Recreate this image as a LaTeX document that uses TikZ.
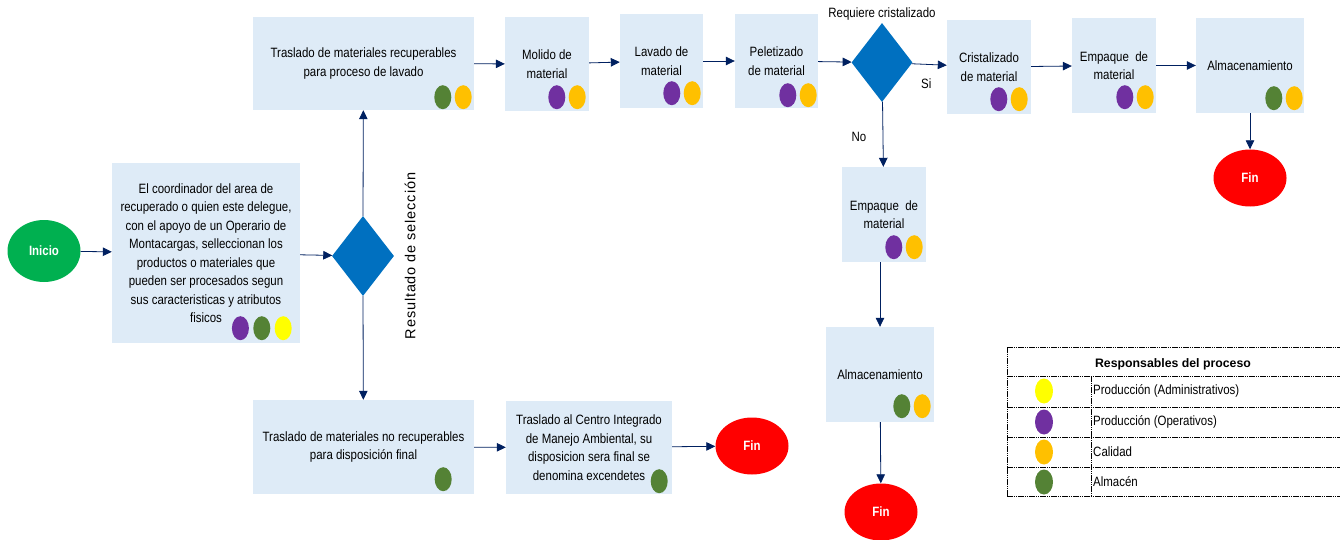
\documentclass[tikz,border=0pt]{standalone}
\usepackage{fontspec}
\setmainfont{Liberation Sans}
\newfontfamily\angosta[FakeStretch=0.85]{Liberation Sans}
\newfontfamily\espaciada[LetterSpace=6]{Liberation Sans}
\usetikzlibrary{arrows.meta,positioning,shapes.geometric}

\definecolor{cajaazul}{HTML}{DEEBF7}
\definecolor{rombo}{HTML}{0070C0}
\definecolor{inicioverde}{HTML}{00B050}
\definecolor{finrojo}{HTML}{FF0000}
\definecolor{flechaazul}{HTML}{002060}
\definecolor{morado}{HTML}{7030A0}
\definecolor{verdeosc}{HTML}{548235}
\definecolor{naranja}{HTML}{FFC000}
\definecolor{amarillo}{HTML}{FFFF00}

\tikzset{
  paso/.style={rectangle, fill=cajaazul, align=center, inner sep=2pt,
    font=\angosta\fontsize{13.5}{18.5}\selectfont},
  decision/.style={diamond, fill=rombo, inner sep=0pt, minimum width=62pt, minimum height=80pt},
  terminal/.style={ellipse, inner sep=0pt, minimum width=73pt, minimum height=57pt,
    text=white, font=\angosta\bfseries\fontsize{13.5}{15}\selectfont},
  resp/.style={ellipse, inner sep=0pt, minimum width=17pt, minimum height=24pt},
  flecha/.style={draw=flechaazul, line width=0.8pt, -{Triangle[width=8.5pt,length=9pt]}},
  rotulo/.style={font=\angosta\fontsize{13.5}{15}\selectfont},
  tabla/.style={line width=0.9pt, dash pattern=on 1.5pt off 0.7pt},
}

\begin{document}
\begin{tikzpicture}[x=1pt, y=-1pt]
  \useasboundingbox (0,0) rectangle (1340,540);

  % inicio y seleccion
  \node[terminal, fill=inicioverde, minimum height=62pt] (ini) at (44,251) {Inicio};
  \node[paso, minimum width=188pt, minimum height=180pt] (sel) at (206,253)
    {El coordinador del area de\\recuperado o quien este delegue,\\con el apoyo de un Operario de\\Montacargas, selleccionan los\\productos o materiales que\\pueden ser procesados segun\\sus caracteristicas y atributos\\fisicos};
  \node[decision] (res) at (363,256) {};
  \node[rotate=90, font=\espaciada\fontsize{14.5}{16}\selectfont] (resl) at (410,256) {Resultado de selección};

  % linea superior
  \node[paso, minimum width=221pt, minimum height=93pt] (rec) at (363.5,63.5)
    {Traslado de materiales recuperables\\para proceso de lavado};
  \node[paso, minimum width=84pt, minimum height=94pt] (mol) at (547,64) {Molido de\\material};
  \node[paso, minimum width=83pt, minimum height=94pt] (lav) at (661.5,61) {Lavado de\\material};
  \node[paso, minimum width=83pt, minimum height=94pt] (pel) at (776.5,61) {Peletizado\\de material};
  \node[decision, minimum width=61pt, minimum height=79pt] (cri) at (882,62.5) {};
  \node[rotulo] (cril) at (882,14) {Requiere cristalizado};
  \node[paso, minimum width=84pt, minimum height=94pt] (cris) at (989,67) {Cristalizado\\de material};
  \node[paso, minimum width=84pt, minimum height=95pt] (emp) at (1114,65.5) {Empaque~ de\\material};
  \node[paso, minimum width=108pt, minimum height=95pt] (alm) at (1250,65.5) {Almacenamiento};
  \node[terminal, fill=finrojo] (fin1) at (1250,178) {Fin};

  % rama sin cristalizado
  \node[paso, minimum width=84pt, minimum height=95pt] (emp2) at (884,214.5) {Empaque~ de\\material};
  \node[paso, minimum width=108pt, minimum height=95pt] (alm2) at (880,374.5) {Almacenamiento};
  \node[terminal, fill=finrojo] (fin2) at (881,512) {Fin};

  % no recuperables
  \node[paso, minimum width=221pt, minimum height=94pt] (norec) at (363.5,447)
    {Traslado de materiales no recuperables\\para disposición final};
  \node[paso, minimum width=166pt, minimum height=93pt] (cim) at (589,447.5)
    {Traslado al Centro Integrado\\de Manejo Ambiental, su\\disposicion sera final se\\denomina excendetes};
  \node[terminal, fill=finrojo] (fin3) at (752,446) {Fin};

  % conectores
  \draw[flecha] (ini) -- (sel);
  \draw[flecha] (sel) -- (res);
  \draw[flecha] (res.north) -- (rec);
  \draw[flecha] (res.south) -- (norec);
  \draw[flecha] (rec) -- (mol);
  \draw[flecha] (mol) -- (lav);
  \draw[flecha] (lav) -- (pel);
  \draw[flecha] (pel) -- (cri);
  \draw[flecha] (cri) -- node[rotulo, below=10pt, xshift=-3pt] (si) {Si} (cris);
  \draw[flecha] (cris) -- (emp);
  \draw[flecha] (emp) -- (alm);
  \draw[flecha] (alm) -- (fin1);
  \draw[flecha] (cri) -- node[rotulo, left=13pt, yshift=-3pt] (no) {No} (emp2);
  \draw[flecha] (emp2.south -| alm2.north) -- (alm2.north);
  \draw[flecha] (alm2) -- (fin2);
  \draw[flecha] (norec) -- (cim);
  \draw[flecha] (cim) -- (fin3);

  % responsables en cada paso
  \node[resp, fill=amarillo] (selA) at ([shift={(-17,-15)}]sel.south east) {};
  \node[resp, fill=verdeosc, left=4pt of selA] (selV) {};
  \node[resp, fill=morado, left=4pt of selV] (selM) {};
  \node[resp, fill=naranja] (recN) at ([shift={(-11,-13)}]rec.south east) {};
  \node[resp, fill=verdeosc, left=3pt of recN] (recV) {};
  \node[resp, fill=naranja] (molN) at ([shift={(-12,-14)}]mol.south east) {};
  \node[resp, fill=morado, left=3pt of molN] (molM) {};
  \node[resp, fill=naranja] (lavN) at ([shift={(-11,-15)}]lav.south east) {};
  \node[resp, fill=morado, left=3pt of lavN] (lavM) {};
  \node[resp, fill=naranja] (pelN) at ([shift={(-10,-13)}]pel.south east) {};
  \node[resp, fill=morado, left=3pt of pelN] (pelM) {};
  \node[resp, fill=naranja] (crisN) at ([shift={(-12,-15)}]cris.south east) {};
  \node[resp, fill=morado, left=3pt of crisN] (crisM) {};
  \node[resp, fill=naranja] (empN) at ([shift={(-11,-16)}]emp.south east) {};
  \node[resp, fill=morado, left=3pt of empN] (empM) {};
  \node[resp, fill=naranja] (almN) at ([shift={(-10,-15)}]alm.south east) {};
  \node[resp, fill=verdeosc, left=3pt of almN] (almV) {};
  \node[resp, fill=naranja] (emp2N) at ([shift={(-12,-15)}]emp2.south east) {};
  \node[resp, fill=morado, left=3pt of emp2N] (emp2M) {};
  \node[resp, fill=naranja] (alm2N) at ([shift={(-12,-16)}]alm2.south east) {};
  \node[resp, fill=verdeosc, left=3pt of alm2N] (alm2V) {};
  \node[resp, fill=verdeosc] (norecV) at ([shift={(-31,-15)}]norec.south east) {};
  \node[resp, fill=verdeosc] (cimV) at ([shift={(-13,-13)}]cim.south east) {};

  % tabla de responsables
  \foreach \y in {347,376,407,437,467,496}
    \draw[tabla] (1007,\y) -- (1340,\y);
  \draw[tabla] (1007,347) -- (1007,496);
  \draw[tabla] (1091,376) -- (1091,496);
  \node[font=\bfseries\fontsize{12.3}{14}\selectfont] (leyenda) at (1173,364) {Responsables del proceso};
  \foreach \y/\c/\t [count=\i] in {391/amarillo/Producción (Administrativos),
      422/morado/Producción (Operativos), 452/naranja/Calidad, 482/verdeosc/Almacén} {
    \node[resp, fill=\c, minimum width=18pt, minimum height=25pt] (ley\i) at (1044,\y) {};
    \node[rotulo, anchor=west, inner sep=1pt] (leyt\i) at (1092,\y) {\t};
  }
\end{tikzpicture}
\end{document}
